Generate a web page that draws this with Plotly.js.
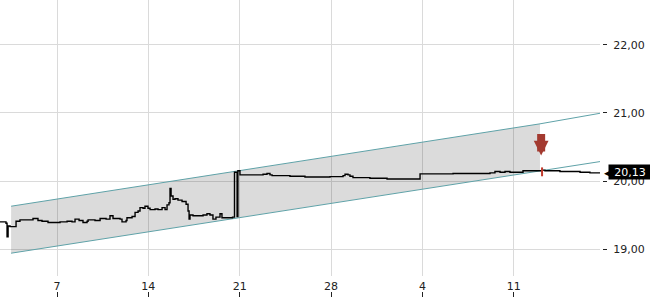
<!DOCTYPE html>
<html>
<head>
<meta charset="utf-8">
<script src="https://cdn.plot.ly/plotly-3.0.1.min.js"></script>
<style>html,body{margin:0;padding:0;background:#fff;}#chart{width:650px;height:300px;}</style>
</head>
<body>
<div id="chart"></div>
<script>
// Day index: 7 = Oct 7, 35 = Nov 4, 42 = Nov 11
const priceDays = [2.63,3.09,3.17,3.25,3.40,3.86,4.16,5.16,5.54,5.85,6.31,7.23,7.77,8.15,8.38,8.69,8.99,9.30,9.38,9.91,
  10.30,10.76,11.06,11.29,11.83,11.98,12.29,12.36,12.75,12.98,13.21,13.36,13.59,13.74,13.97,14.13,14.51,14.74,15.05,15.28,
  15.43,15.58,15.66,15.74,15.89,16.04,16.27,16.58,16.89,17.04,17.12,17.19,17.42,18.19,18.49,18.72,18.95,19.18,19.49,19.64,
  20.10,20.45,20.60,20.80,20.86,21.02,22.79,23.09,23.32,23.48,24.85,26.00,27.92,28.92,29.07,29.30,29.45,29.68,30.98,32.29,
  34.82,37.35,40.18,40.56,40.95,41.33,41.71,42.71,44.17,44.39,45.54,47.08,47.84,48.61];
const priceValues = [19.40,19.38,19.18,19.34,19.33,19.41,19.43,19.45,19.42,19.41,19.39,19.40,19.41,19.40,19.44,19.42,19.39,19.41,19.43,19.42,
  19.45,19.44,19.49,19.45,19.44,19.40,19.42,19.46,19.48,19.54,19.56,19.61,19.60,19.63,19.60,19.58,19.59,19.58,19.61,19.58,
  19.65,19.68,19.89,19.78,19.73,19.74,19.72,19.70,19.66,19.56,19.44,19.50,19.49,19.50,19.52,19.50,19.44,19.47,19.52,19.46,
  19.46,19.47,20.13,19.48,20.15,20.09,20.10,20.11,20.09,20.08,20.07,20.06,20.065,20.08,20.10,20.09,20.07,20.05,20.04,20.03,
  20.105,20.11,20.12,20.14,20.13,20.14,20.13,20.15,20.16,20.15,20.14,20.13,20.12,20.13];

const channelDays  = [3.48, 44.01, 48.76];
const channelUpper = [19.63, 20.84, 21.00];
const channelLower = [18.94, 20.15, 20.29];

const signalDay = 44.10;
const signalValue = 20.376;
const signalTickDays = [44.17, 44.17];
const signalTickValues = [20.07, 20.20];

const lastPrice = 20.13;
const lastPriceLabel = "20,13";

const xTickVals = [7, 14, 21, 28, 35, 42];
const xTickText = ["7", "14", "21", "28", "4", "11"];
const yTickVals = [19, 20, 21, 22];
const yTickText = ["19,00", "20,00", "21,00", "22,00"];

const xRange = [2.63, 48.61];
const yRange = [18.605, 22.659];

const FONT = {family: "DejaVu Sans", size: 11, color: "#222222"};
const TEAL = "#5fa2a8";

const traces = [
  {x: channelDays.slice(0, 2).concat(channelDays.slice(0, 2).reverse()),
   y: channelUpper.slice(0, 2).concat(channelLower.slice(0, 2).reverse()),
   type: "scatter", mode: "lines", fill: "toself", fillcolor: "rgba(0,0,0,0.14)",
   line: {width: 0}, hoverinfo: "skip", showlegend: false},
  {x: channelDays, y: channelUpper, type: "scatter", mode: "lines",
   line: {color: TEAL, width: 1}, showlegend: false},
  {x: channelDays, y: channelLower, type: "scatter", mode: "lines",
   line: {color: TEAL, width: 1}, showlegend: false},
  {x: priceDays, y: priceValues, type: "scatter", mode: "lines",
   line: {color: "#000000", width: 1.4, shape: "hv"}, showlegend: false},
  {x: signalTickDays, y: signalTickValues, xaxis: "x2", yaxis: "y2", type: "scatter", mode: "lines",
   line: {color: "#c0392b", width: 2}, showlegend: false}
];

const layout = {
  width: 650, height: 300,
  margin: {l: 0, r: 48, t: 0, b: 3, pad: 0},
  paper_bgcolor: "#ffffff", plot_bgcolor: "#ffffff",
  showlegend: false, hovermode: false,
  font: FONT,
  xaxis: {range: xRange, domain: [0, 0.99668], tickvals: xTickVals, ticktext: xTickText,
    showgrid: true, gridcolor: "#dadada", gridwidth: 1, zeroline: false, showline: false,
    ticks: "", tickfont: FONT, ticklabelstandoff: 2},
  xaxis2: {range: xRange, overlaying: "x", anchor: "free", position: 0, tickvals: xTickVals,
    showgrid: false, zeroline: false, showline: false, ticks: "inside", ticklen: 5,
    tickcolor: "#222222", tickwidth: 1, showticklabels: false},
  yaxis: {range: yRange, domain: [0.0707, 1], tickvals: yTickVals, showgrid: true,
    gridcolor: "#dadada", gridwidth: 1, zeroline: false, showline: false, ticks: "",
    showticklabels: false},
  yaxis2: {range: yRange, overlaying: "y", anchor: "free", position: 1, side: "right",
    tickvals: yTickVals, ticktext: yTickText, showgrid: false, zeroline: false, showline: false,
    ticks: "outside", ticklen: 4, tickcolor: "#222222", tickwidth: 1, tickfont: FONT,
    ticklabelstandoff: 4},
  annotations: [
    {x: signalDay, y: signalValue, xref: "x", yref: "y", text: "", showarrow: true,
     ax: 0, ay: -23, arrowcolor: "#a33a30", arrowwidth: 8, arrowhead: 2, arrowsize: 0.37},
    {x: 1, y: lastPrice, xref: "paper", yref: "y", xanchor: "left", yanchor: "middle",
     xshift: 0, text: "◀", showarrow: false, font: {family: "DejaVu Sans", size: 13, color: "#000000"}},
    {x: 1, y: lastPrice, xref: "paper", yref: "y", xanchor: "left", yanchor: "middle",
     xshift: 6, text: lastPriceLabel, width: 40, height: 12, align: "center", showarrow: false,
     bgcolor: "#000000", borderpad: 1,
     font: {family: "DejaVu Sans", size: 11, color: "#ffffff"}}
  ]
};

Plotly.newPlot("chart", traces, layout, {displayModeBar: false, staticPlot: true});
</script>
</body>
</html>
